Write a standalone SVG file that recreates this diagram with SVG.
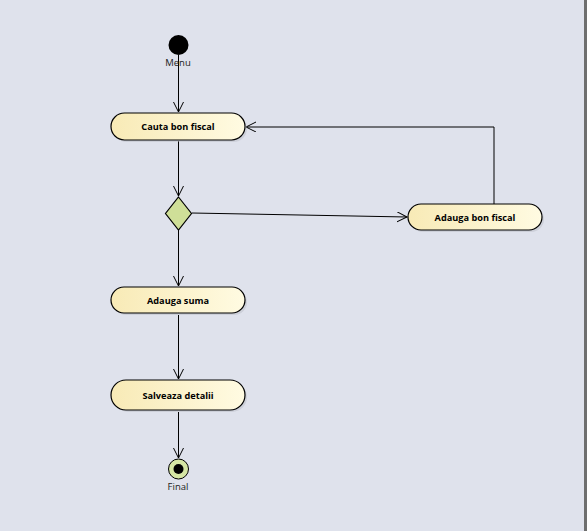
<svg xmlns="http://www.w3.org/2000/svg" width="587" height="531" viewBox="0 0 587 531">
<defs>
<linearGradient id="g" x1="0" y1="0" x2="1" y2="0">
<stop offset="0" stop-color="#f8eab6"/>
<stop offset="1" stop-color="#fffbe2"/>
</linearGradient>
<marker id="arr" markerWidth="12" markerHeight="12" refX="10" refY="5" orient="auto" markerUnits="userSpaceOnUse">
<path d="M0,0 L10,5 L0,10" fill="none" stroke="#000" stroke-width="1"/>
</marker>
</defs>
<style>
.act{fill:url(#g);stroke:#000;stroke-width:1.2}
.sh{fill:#b8bbc4;opacity:0.45}
.t{font-family:"Open Sans","Liberation Sans",sans-serif;font-size:9.2px;font-weight:bold;fill:#000;text-anchor:middle}
.l{font-family:"Open Sans","Liberation Sans",sans-serif;font-size:9.5px;fill:#222;text-anchor:middle}
.c{fill:none;stroke:#000;stroke-width:1;marker-end:url(#arr)}
</style>
<rect x="0" y="0" width="587" height="531" fill="#dfe2ec"/>
<rect x="584" y="0" width="3" height="531" fill="#6e6e6e"/>
<g id="connectors">
<path class="c" d="M178.5,55 L178.5,112"/>
<path class="c" d="M178.5,141 L178.5,196"/>
<path class="c" d="M192,213 L407,217"/>
<path class="c" d="M494,204 L494,127 L246,127"/>
<path class="c" d="M178.5,230 L178.5,286"/>
<path class="c" d="M178.5,315 L178.5,379"/>
<path class="c" d="M178.5,412 L178.5,458"/>
</g>
<g id="initial">
<circle cx="178.5" cy="45" r="10" fill="#000"/>
<text class="l" x="178" y="66">Menu</text>
</g>
<g id="cauta">
<rect class="sh" x="113" y="115" width="134" height="27" rx="13.5"/>
<rect class="act" x="111" y="113" width="134" height="27" rx="13.5"/>
<text class="t" x="178" y="130">Cauta bon fiscal</text>
</g>
<g id="decision">
<polygon points="178.5,197 191.5,213.5 178.5,230 165.5,213.5" fill="#cfdf98" stroke="#000" stroke-width="1.2"/>
</g>
<g id="adauga_bon">
<rect class="sh" x="410" y="206" width="134" height="26" rx="13"/>
<rect class="act" x="408" y="204" width="134" height="26" rx="13"/>
<text class="t" x="475" y="221">Adauga bon fiscal</text>
</g>
<g id="adauga_suma">
<rect class="sh" x="113" y="289" width="134" height="26" rx="13"/>
<rect class="act" x="111" y="287" width="134" height="26" rx="13"/>
<text class="t" x="178" y="304">Adauga suma</text>
</g>
<g id="salveaza">
<rect class="sh" x="113" y="382" width="134" height="30" rx="15"/>
<rect class="act" x="111" y="380" width="134" height="30" rx="15"/>
<text class="t" x="178" y="399">Salveaza detalii</text>
</g>
<g id="final">
<circle cx="178.5" cy="469" r="10" fill="#d5e6a4" stroke="#000" stroke-width="1"/>
<circle cx="178.5" cy="469" r="5" fill="#000"/>
<text class="l" x="178" y="490">Final</text>
</g>
</svg>
